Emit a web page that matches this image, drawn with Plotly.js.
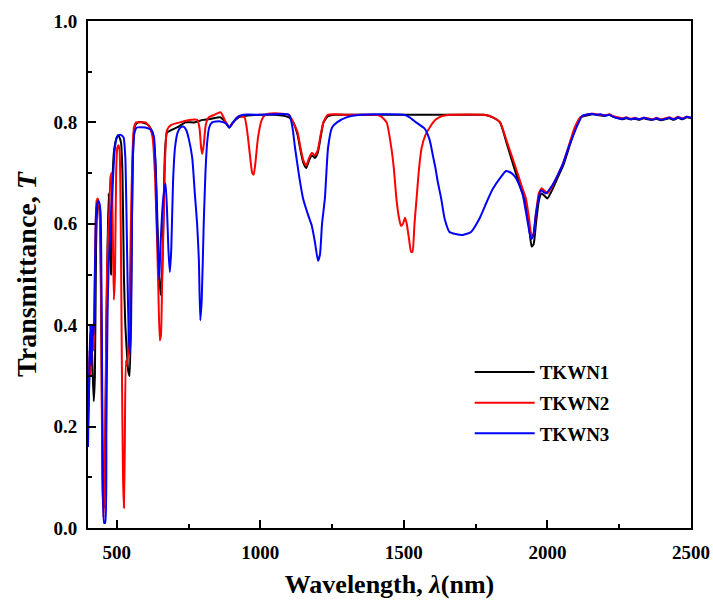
<!DOCTYPE html>
<html>
<head>
<meta charset="utf-8">
<script src="https://cdn.plot.ly/plotly-3.0.1.min.js"></script>
<style>
  html, body { margin: 0; padding: 0; background: #fff; }
  #chart { width: 713px; height: 606px; }
</style>
</head>
<body>
<div id="chart"></div>
<script>
// ---- TKWN1 (black) ----
var wl1 = [400,405,410,415,420,424,428,432,436,440,444,448,452,456,460,464,468,472,476,480,485,490,495,500,505,510,515,520,525,530,535,540,545,550,555,560,565,575,590,610,625,635,642,648,653,658,663,668,675,690,710,740,770,800,830,860,880,892,905,925,950,1000,1050,1100,1115,1130,1140,1150,1160,1170,1180,1190,1200,1210,1220,1235,1260,1300,1400,1500,1600,1700,1780,1810,1835,1860,1890,1910,1925,1935,1945,1952,1960,1970,1980,1990,2000,2015,2035,2055,2075,2095,2115,2140,2160,2180,2200,2215,2230,2245,2260,2275,2290,2305,2320,2335,2350,2365,2380,2395,2410,2425,2440,2455,2470,2485,2500];
var t1 = [0.20,0.30,0.40,0.33,0.25,0.30,0.55,0.63,0.64,0.63,0.55,0.30,0.06,0.04,0.15,0.40,0.55,0.66,0.60,0.50,0.68,0.74,0.76,0.77,0.775,0.77,0.76,0.70,0.50,0.40,0.35,0.31,0.30,0.45,0.70,0.78,0.795,0.80,0.80,0.795,0.78,0.72,0.60,0.50,0.46,0.50,0.62,0.74,0.78,0.785,0.79,0.80,0.80,0.805,0.807,0.81,0.80,0.79,0.80,0.81,0.813,0.815,0.815,0.81,0.80,0.775,0.745,0.72,0.71,0.725,0.735,0.73,0.74,0.77,0.80,0.812,0.815,0.815,0.815,0.815,0.815,0.815,0.815,0.81,0.80,0.755,0.70,0.665,0.64,0.60,0.555,0.56,0.60,0.645,0.66,0.655,0.65,0.665,0.69,0.715,0.75,0.785,0.81,0.814,0.816,0.814,0.813,0.815,0.811,0.809,0.806,0.808,0.806,0.807,0.805,0.808,0.806,0.805,0.807,0.804,0.806,0.808,0.805,0.809,0.806,0.810,0.808];

// ---- TKWN2 (red) ----
var wl2 = [400,405,410,415,420,425,430,434,438,442,446,450,454,458,462,466,470,474,478,482,486,490,494,498,502,506,510,514,518,522,525,528,532,536,540,545,550,555,560,568,580,600,615,625,633,640,645,650,654,658,663,668,675,690,720,760,780,788,794,798,803,810,820,840,862,880,892,905,925,945,955,965,972,977,983,992,1005,1017,1050,1100,1115,1130,1140,1150,1160,1170,1180,1190,1200,1210,1220,1235,1300,1400,1420,1440,1455,1465,1474,1482,1490,1497,1504,1510,1518,1525,1530,1537,1545,1553,1562,1575,1590,1610,1630,1660,1780,1810,1835,1860,1890,1910,1925,1935,1945,1952,1960,1970,1980,1990,2000,2015,2035,2055,2075,2095,2115,2140,2160,2180,2200,2215,2230,2245,2260,2275,2290,2305,2320,2335,2350,2365,2380,2395,2410,2425,2440,2455,2470,2485,2500];
var t2 = [0.22,0.35,0.30,0.38,0.35,0.55,0.645,0.65,0.64,0.60,0.40,0.10,0.02,0.10,0.30,0.50,0.58,0.62,0.69,0.70,0.60,0.45,0.50,0.70,0.75,0.755,0.745,0.60,0.32,0.10,0.04,0.15,0.33,0.32,0.35,0.45,0.62,0.74,0.79,0.80,0.80,0.80,0.79,0.77,0.70,0.58,0.47,0.37,0.38,0.48,0.60,0.72,0.785,0.795,0.80,0.805,0.805,0.79,0.75,0.738,0.755,0.795,0.81,0.815,0.82,0.80,0.79,0.80,0.812,0.81,0.78,0.73,0.70,0.697,0.72,0.77,0.805,0.815,0.818,0.815,0.80,0.78,0.75,0.725,0.715,0.73,0.74,0.735,0.745,0.775,0.80,0.815,0.815,0.815,0.812,0.80,0.755,0.71,0.65,0.615,0.596,0.60,0.612,0.60,0.57,0.545,0.545,0.60,0.655,0.71,0.75,0.775,0.79,0.805,0.812,0.815,0.815,0.81,0.80,0.76,0.71,0.675,0.65,0.615,0.575,0.58,0.62,0.66,0.67,0.665,0.66,0.672,0.695,0.72,0.755,0.79,0.81,0.816,0.817,0.815,0.814,0.816,0.812,0.810,0.808,0.810,0.807,0.809,0.806,0.809,0.808,0.806,0.809,0.806,0.808,0.810,0.807,0.811,0.808,0.811,0.809];

// ---- TKWN3 (blue) ----
var wl3 = [400,404,408,412,416,420,424,428,432,436,440,444,448,452,456,460,464,468,472,476,480,484,488,492,496,500,508,516,524,530,534,538,542,546,550,553,557,562,570,600,620,630,636,640,644,648,652,658,664,670,675,680,685,690,696,703,712,722,732,742,752,763,772,780,786,791,796,803,809,815,822,832,860,880,892,905,920,940,1000,1100,1112,1121,1135,1149,1165,1179,1190,1201,1208,1215,1225,1236,1250,1267,1300,1350,1500,1520,1543,1572,1590,1601,1610,1618,1630,1642,1659,1680,1705,1734,1763,1790,1810,1835,1856,1875,1891,1913,1931,1943,1950,1960,1977,1994,2017,2035,2052,2070,2087,2105,2122,2155,2170,2185,2200,2215,2230,2245,2260,2275,2290,2305,2320,2335,2350,2365,2380,2395,2410,2425,2440,2455,2470,2485,2500];
var t3 = [0.16,0.30,0.40,0.32,0.40,0.38,0.50,0.62,0.64,0.645,0.64,0.62,0.40,0.10,0.01,0.01,0.20,0.42,0.52,0.56,0.62,0.66,0.70,0.74,0.76,0.77,0.775,0.775,0.77,0.73,0.62,0.48,0.38,0.345,0.40,0.60,0.74,0.78,0.79,0.79,0.785,0.77,0.70,0.60,0.545,0.49,0.55,0.62,0.66,0.68,0.63,0.55,0.505,0.55,0.68,0.75,0.78,0.79,0.792,0.785,0.765,0.73,0.66,0.60,0.53,0.41,0.45,0.60,0.70,0.76,0.79,0.80,0.802,0.798,0.79,0.80,0.81,0.815,0.815,0.815,0.79,0.75,0.695,0.65,0.62,0.597,0.565,0.527,0.54,0.60,0.65,0.75,0.79,0.80,0.81,0.815,0.815,0.81,0.80,0.788,0.765,0.735,0.71,0.683,0.65,0.61,0.584,0.58,0.578,0.584,0.61,0.645,0.669,0.69,0.704,0.70,0.69,0.66,0.604,0.57,0.575,0.62,0.666,0.66,0.676,0.695,0.715,0.745,0.77,0.795,0.813,0.817,0.815,0.816,0.813,0.815,0.811,0.808,0.807,0.809,0.806,0.808,0.806,0.809,0.807,0.805,0.808,0.805,0.807,0.809,0.806,0.810,0.807,0.811,0.809];

var seriesNames = ['TKWN1', 'TKWN2', 'TKWN3'];
var xTickVals = [500, 1000, 1500, 2000, 2500];
var yTickVals = [0.0, 0.2, 0.4, 0.6, 0.8, 1.0];

var fontFam = 'Liberation Serif';
var colors = ['#000000', '#ff0000', '#0000ff'];
var xs = [wl1, wl2, wl3];
var ys = [t1, t2, t3];

var data = xs.map(function (x, i) {
  return {
    type: 'scatter', mode: 'lines', x: x, y: ys[i], name: seriesNames[i],
    legendgroup: 'g' + i,
    line: { color: colors[i], width: 2, shape: 'spline', smoothing: 0.5 }
  };
});

function tickFont() { return { family: fontFam, size: 19, color: '#000', weight: 'bold' }; }

var layout = {
  width: 713, height: 606,
  margin: { l: 88, r: 22, t: 21, b: 78 },
  paper_bgcolor: '#fff', plot_bgcolor: '#fff',
  font: { family: fontFam, color: '#000' },
  showlegend: true,
  legend: {
    x: 0.633, y: 0.345, xanchor: 'left', yanchor: 'top',
    bgcolor: 'rgba(0,0,0,0)', borderwidth: 0,
    font: { family: fontFam, size: 19, color: '#000', weight: 'bold' },
    tracegroupgap: 3, itemwidth: 60, traceorder: 'grouped'
  },
  xaxis: {
    showline: true, linecolor: '#000', linewidth: 2, mirror: true,
    ticks: 'inside', ticklen: 8, tickwidth: 2, tickcolor: '#000',
    showgrid: false, zeroline: false, tickfont: tickFont(),
    range: [400, 2500], tickmode: 'array', tickvals: xTickVals,
    ticklabelstandoff: 6,
    minor: { tickvals: [750, 1250, 1750, 2250], ticklen: 4, tickwidth: 2, tickcolor: '#000', ticks: 'inside' },
    title: { text: 'Wavelength, <i>λ</i>(nm)', font: { family: fontFam, size: 26, color: '#000', weight: 'bold' }, standoff: 13 }
  },
  yaxis: {
    showline: true, linecolor: '#000', linewidth: 2, mirror: true,
    ticks: 'inside', ticklen: 8, tickwidth: 2, tickcolor: '#000',
    showgrid: false, zeroline: false, tickfont: tickFont(),
    range: [0, 1], tickmode: 'array', tickvals: yTickVals, tickformat: '.1f',
    ticklabelstandoff: 5,
    minor: { tickvals: [0.1, 0.3, 0.5, 0.7, 0.9], ticklen: 4, tickwidth: 2, tickcolor: '#000', ticks: 'inside' },
    title: { text: 'Transmittance, <i>T</i>', font: { family: fontFam, size: 28, color: '#000', weight: 'bold' }, standoff: 9 }
  }
};

Plotly.newPlot('chart', data, layout, { displayModeBar: false, staticPlot: true });
</script>
</body>
</html>
